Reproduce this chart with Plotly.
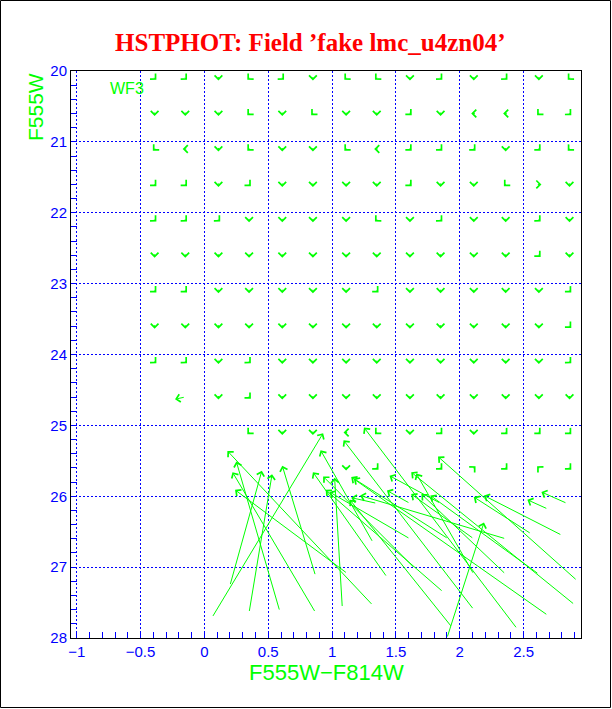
import plotly.graph_objects as go

# ---------------- data ----------------
# fake-star input grid (colour columns, magnitude rows)
grid_col = [-0.39, -0.15, 0.11, 0.35, 0.61, 0.85, 1.11, 1.35, 1.61, 1.85, 2.11, 2.36, 2.62, 2.86]
grid_mag = [20.1, 20.6, 21.1, 21.6, 22.1, 22.6, 23.1, 23.6, 24.1, 24.6, 25.1, 25.6]

# direction of the tiny input->output shift for each star ("" = no small arrow)
shift_dir = [
    ["SE", "SE", "S", "SW", "SE", "S", "SW", "SW", "S", "SE", "S", "SE", "S", "SW"],
    ["S", "S", "S", "SW", "S", "SW", "S", "S", "SE", "S", "W", "W", "SW", "SE"],
    ["SW", "W", "S", "SW", "S", "S", "SW", "W", "SE", "SE", "SE", "S", "SE", "SW"],
    ["SE", "SE", "S", "SE", "S", "S", "S", "S", "SE", "S", "S", "SW", "E", "S"],
    ["SE", "SE", "SE", "S", "S", "S", "S", "SW", "S", "SE", "S", "S", "SE", "S"],
    ["S", "S", "S", "S", "S", "S", "S", "S", "S", "S", "S", "S", "SE", "S"],
    ["SE", "SE", "S", "S", "S", "S", "S", "SE", "S", "S", "S", "S", "S", "SE"],
    ["S", "S", "S", "S", "S", "S", "S", "S", "S", "S", "S", "S", "S", "SE"],
    ["SE", "SE", "S", "SE", "S", "S", "S", "S", "S", "S", "S", "S", "S", "SE"],
    ["", "", "S", "SE", "S", "S", "S", "S", "S", "S", "S", "S", "S", "S"],
    ["", "", "", "SW", "S", "S", "W", "SW", "S", "SE", "S", "SE", "SE", "SE"],
    ["", "", "", "", "", "", "S", "SE", "", "SE", "NE", "SE", "NW", "SE"],
]

# stars recovered far from their input position (input -> output)
long_col_in = [-0.15, 0.06, 1.32, 0.35, 0.59, 0.87, 0.20, 0.87, 1.12, 1.08, 1.32, 1.43,
               1.65, 1.87, 1.61, 1.94, 2.11, 2.45, 2.69, 2.90, 2.92, 2.56, 2.80, 2.69,
               2.84, 1.90, 1.61, 1.91, 2.11, 2.36, 2.62, 2.11, 2.36, 1.85, 1.35]
long_mag_in = [24.6, 27.71, 27.54, 27.64, 27.62, 27.64, 27.26, 27.12, 27.09, 27.57, 26.65, 27.14,
               27.02, 27.35, 26.6, 27.85, 27.6, 27.87, 27.68, 27.53, 27.19, 26.53, 26.55, 26.18,
               26.10, 28.0, 26.1, 26.60, 27.1, 27.1, 27.1, 26.6, 26.6, 26.1, 26.1]
long_col_out = [-0.23, 0.93, 0.18, 0.53, 0.25, 0.22, 0.45, 0.61, 0.24, 1.02, 0.91, 0.85,
                0.93, 0.95, 0.98, 1.14, 1.09, 1.25, 1.15, 1.62, 1.83, 2.11, 2.19, 2.53,
                2.64, 2.19, 1.43, 1.17, 1.66, 1.70, 1.77, 1.62, 1.22, 1.45, 1.15]
long_mag_out = [24.63, 25.11, 25.36, 25.69, 25.51, 25.66, 25.64, 25.57, 25.91, 25.74, 25.35, 25.66,
                25.72, 25.91, 25.94, 26.05, 25.21, 25.03, 25.73, 25.66, 25.44, 26.01, 25.99, 26.05,
                25.94, 26.37, 25.92, 25.75, 25.68, 25.97, 25.99, 25.97, 25.99, 25.71, 26.02]

x_ticks = [-1, -0.5, 0, 0.5, 1, 1.5, 2, 2.5]
x_ticktext = ["\u22121", "\u22120.5", "0", "0.5", "1", "1.5", "2", "2.5"]
y_ticks = [20, 21, 22, 23, 24, 25, 26, 27, 28]

# ---------------- style ----------------
GREEN = "#00ff00"
BLUE = "#0000ff"
RED = "#ff0000"
FONT = "Liberation Sans"

# small shift used only to orient the arrowhead of nearly unmoved stars
step = {"N": (0, -0.07), "S": (0, 0.07), "E": (0.04, 0), "W": (-0.04, 0),
        "NE": (0.028, -0.05), "NW": (-0.028, -0.05), "SE": (0.028, 0.05), "SW": (-0.028, 0.05)}

annotations = []


def arrow(x0, y0, x1, y1):
    return dict(x=x1, y=y1, ax=x0, ay=y0, xref="x", yref="y", axref="x", ayref="y",
                text="", showarrow=True, arrowhead=4, arrowsize=1.5, arrowwidth=1,
                arrowcolor=GREEN, standoff=0)


for r, m in enumerate(grid_mag):
    for c, col in enumerate(grid_col):
        d = shift_dir[r][c]
        if not d:
            continue
        dx, dy = step[d]
        annotations.append(arrow(col - dx / 2, m - dy / 2, col + dx / 2, m + dy / 2))

for x0, y0, x1, y1 in zip(long_col_in, long_mag_in, long_col_out, long_mag_out):
    annotations.append(arrow(x0, y0, x1, y1))

# labels
annotations.append(dict(x=-0.605, y=20.24, xref="x", yref="y", text="WF3", showarrow=False,
                        font=dict(family=FONT, size=16, color=GREEN)))
annotations.append(dict(x=-0.0706, y=1.0, xref="paper", yref="paper", text="F555W",
                        textangle=-90, showarrow=False, xanchor="center", yanchor="top",
                        font=dict(family=FONT, size=21, color=GREEN)))
annotations.append(dict(x=0.5, y=-0.06, xref="paper", yref="paper", text="F555W\u2212F814W",
                        showarrow=False, xanchor="center", yanchor="middle",
                        font=dict(family=FONT, size=22, color=GREEN)))

fig = go.Figure()
fig.add_trace(go.Scatter(x=[None], y=[None], mode="markers", showlegend=False, hoverinfo="skip"))

W, H = 612, 709
ml, mr, mt, mb = 71, 31, 71, 71
pw, ph = W - ml - mr, H - mt - mb

fig.update_layout(
    width=W, height=H,
    margin=dict(l=ml, r=mr, t=mt, b=mb),
    paper_bgcolor="white", plot_bgcolor="white",
    showlegend=False,
    title=dict(text="HSTPHOT: Field \u2019fake lmc_u4zn04\u2019", x=0.507, xref="container",
               xanchor="center", y=1 - 42 / H, yref="container", yanchor="middle",
               font=dict(family="Liberation Serif", size=25, color=RED, weight="bold")),
    annotations=annotations,
    shapes=[dict(type="rect", xref="paper", yref="paper",
                 x0=-(ml - 0.5) / pw, x1=(W - 1.5 - ml) / pw,
                 y0=1 + (mt - 0.5) / ph, y1=-(mb - 1.5) / ph,
                 line=dict(color="black", width=1), layer="below")],
)

fig.update_xaxes(
    range=[-1.045, 2.95], tickmode="array", tickvals=x_ticks, ticktext=x_ticktext,
    ticks="inside", ticklen=6, tickcolor=BLUE, tickwidth=1,
    tickfont=dict(family=FONT, size=15, color=BLUE),
    showgrid=True, gridcolor=BLUE, gridwidth=1, griddash="2px,2px",
    showline=True, linecolor="black", linewidth=1, mirror=True, zeroline=False,
    minor=dict(dtick=0.1, tick0=0, ticks="inside", ticklen=6, tickcolor=BLUE, showgrid=False),
)
fig.update_yaxes(
    range=[28, 20], tickmode="array", tickvals=y_ticks,
    ticks="inside", ticklen=6, tickcolor=BLUE, tickwidth=1,
    tickfont=dict(family=FONT, size=15, color=BLUE),
    showgrid=True, gridcolor=BLUE, gridwidth=1, griddash="2px,2px",
    showline=True, linecolor="black", linewidth=1, mirror=True, zeroline=False,
    minor=dict(dtick=0.2, tick0=20, ticks="inside", ticklen=6, tickcolor=BLUE, showgrid=False),
)

fig.write_html("out.html", config={"displayModeBar": False},
               post_script="document.body.style.margin='0';document.body.style.overflow='hidden';")
